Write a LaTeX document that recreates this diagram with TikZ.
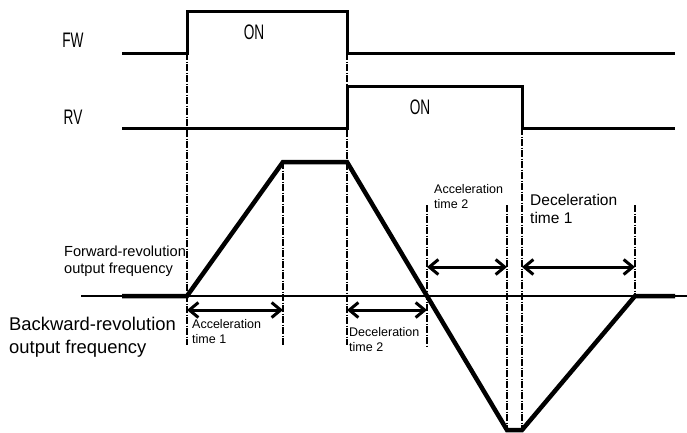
\documentclass[tikz,border=0pt]{standalone}
\usepackage{fontspec}
\setmainfont{Liberation Sans}
\newfontfamily\narrowfont[FakeStretch=0.65]{Liberation Sans}
\usetikzlibrary{arrows.meta}

\tikzset{
    signal/.style={line width=3pt},
    freq/.style={line width=4.5pt, line join=miter},
    guide/.style={line width=1.1pt, dash pattern=on 7pt off 1.5pt on 1pt off 1.5pt},
    span/.style={line width=3pt, {Straight Barb[length=9pt,width=15pt]}-{Straight Barb[length=9pt,width=15pt]}},
    small/.style={font=\fontsize{12.5}{15}\selectfont, align=left, anchor=north west, inner sep=0pt},
}

\begin{document}
\begin{tikzpicture}[x=1pt, y=-1pt]
    \useasboundingbox (0, 0) rectangle (687, 432);

    % switching instants
    \coordinate (fwon) at (187, 0);
    \coordinate (accend) at (283, 0);
    \coordinate (rvon) at (347, 0);
    \coordinate (zero) at (427, 0);
    \coordinate (bottom) at (507, 0);
    \coordinate (rvoff) at (522, 0);
    \coordinate (stop) at (635, 0);

    % input signals
    \node[font=\narrowfont\fontsize{21}{21}\selectfont] (fw) at (73, 40) {FW};
    \node[font=\narrowfont\fontsize{21}{21}\selectfont] (rv) at (73, 117.5) {RV};
    \node[font=\narrowfont\fontsize{21}{21}\selectfont] (fwon-label) at (254, 32) {ON};
    \node[font=\narrowfont\fontsize{21}{21}\selectfont] (rvon-label) at (420, 107.5) {ON};

    \draw[signal] (122, 53) -- (fwon |- 0, 53) -- (fwon |- 0, 11) -- (rvon |- 0, 11)
        -- (rvon |- 0, 53) -- (675, 53);
    \draw[signal] (122, 128) -- (rvon |- 0, 128) -- (rvon |- 0, 86) -- (rvoff |- 0, 86)
        -- (rvoff |- 0, 128) -- (675, 128);

    % output frequency
    \draw[line width=1.3pt] (81, 296) -- (687, 296);
    \draw[freq] (122, 296) -- (fwon |- 0, 296) -- (accend |- 0, 162) -- (rvon |- 0, 162)
        -- (bottom |- 0, 430) -- (rvoff |- 0, 430) -- (stop |- 0, 296) -- (675, 296);

    \draw[guide] (fwon |- 0, 53) -- (fwon |- 0, 345);
    \draw[guide] (accend |- 0, 162) -- (accend |- 0, 345);
    \draw[guide] (rvon |- 0, 53) -- (rvon |- 0, 345);
    \draw[guide] (zero |- 0, 205) -- (zero |- 0, 348);
    \draw[guide] (bottom |- 0, 205) -- (bottom |- 0, 432);
    \draw[guide] (rvoff |- 0, 128) -- (rvoff |- 0, 432);
    \draw[guide] (stop |- 0, 205) -- (stop |- 0, 296);

    \draw[span] (fwon |- 0, 310) -- (accend |- 0, 310);
    \draw[span] (rvon |- 0, 310) -- (zero |- 0, 310);
    \draw[span] (zero |- 0, 267) -- (bottom |- 0, 267);
    \draw[span] (rvoff |- 0, 267) -- (stop |- 0, 267);

    \node[font=\fontsize{14.6}{16.5}\selectfont, align=left, anchor=north west, inner sep=0pt]
        (fwd) at (64, 246) {Forward-revolution\\output frequency};
    \node[font=\fontsize{18.4}{22.5}\selectfont, align=left, anchor=north west, inner sep=0pt]
        (bwd) at (9, 317) {Backward-revolution\\output frequency};
    \node[small] (acc1) at (192, 319) {Acceleration\\time 1};
    \node[small] (dec2) at (349, 327) {Deceleration\\time 2};
    \node[small] (acc2) at (434, 184) {Acceleration\\time 2};
    \node[font=\fontsize{15.5}{18}\selectfont, align=left, anchor=north west, inner sep=0pt]
        (dec1) at (530, 194) {Deceleration\\time 1};
\end{tikzpicture}
\end{document}
